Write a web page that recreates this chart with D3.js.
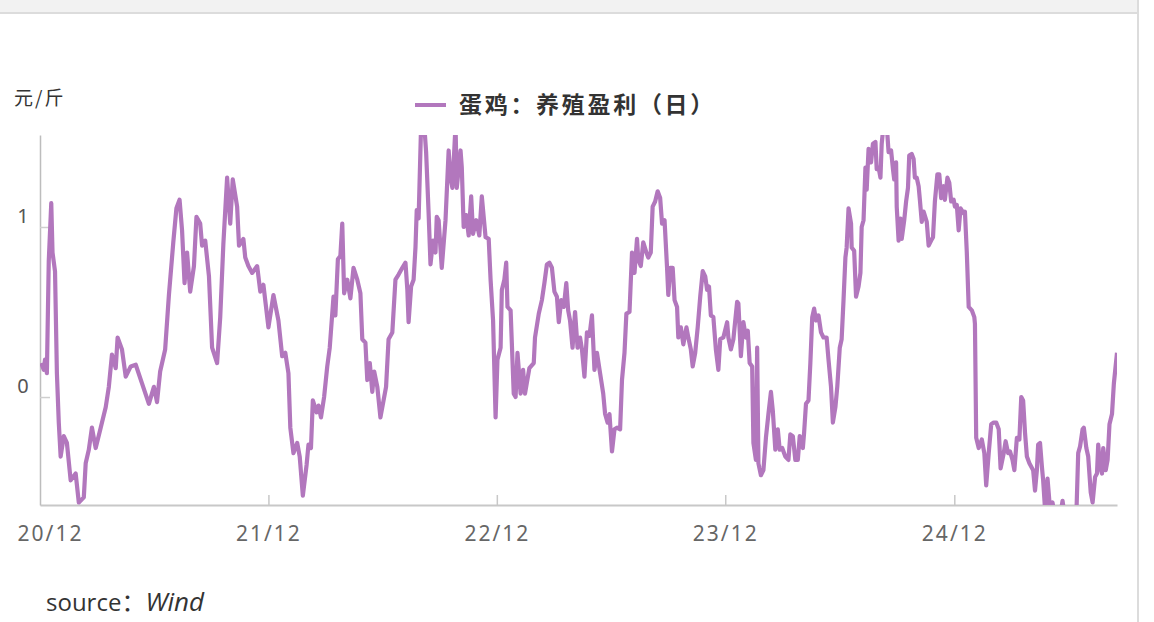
<!DOCTYPE html>
<html>
<head>
<meta charset="utf-8">
<script src="https://cdn.jsdelivr.net/npm/d3@7"></script>
<style>
  html, body { margin: 0; padding: 0; background: #fff; }
  svg { display: block; }
  .tick-x text { font-family: "Noto Sans", "DejaVu Sans", sans-serif; font-size: 21px; fill: #666; letter-spacing: 2px; }
  .tick-y text { font-family: "Noto Sans", "DejaVu Sans", sans-serif; font-size: 20px; fill: #555; }
</style>
</head>
<body>
<div id="chart"></div>
<script>
const seriesName = "蛋鸡：养殖盈利（日）";
const unitLabel = "元/斤";
const yTicks = [0, 1];
const xTicks = ["2020-12-01", "2021-12-01", "2022-12-01", "2023-12-01", "2024-12-01"];
const xDomain = ["2020-12-01", "2025-08-18"];
const yDomain = [-0.635, 1.541];

const dates = [
  "2020-12-03","2020-12-07","2020-12-09","2020-12-12","2020-12-15","2020-12-19","2020-12-21","2020-12-25","2020-12-28","2020-12-31",
  "2021-01-03","2021-01-08","2021-01-13","2021-01-19","2021-01-27","2021-02-01","2021-02-09","2021-02-12","2021-02-17","2021-02-22",
  "2021-02-28","2021-03-08","2021-03-16","2021-03-21","2021-03-26","2021-04-01","2021-04-04","2021-04-11","2021-04-17","2021-04-25",
  "2021-05-03","2021-05-13","2021-05-24","2021-06-01","2021-06-06","2021-06-11","2021-06-19","2021-06-25","2021-07-02","2021-07-07",
  "2021-07-12","2021-07-16","2021-07-20","2021-07-24","2021-07-29","2021-08-04","2021-08-08","2021-08-14","2021-08-17","2021-08-22",
  "2021-08-28","2021-09-02","2021-09-10","2021-09-15","2021-09-20","2021-09-26","2021-10-01","2021-10-05","2021-10-12","2021-10-15",
  "2021-10-22","2021-10-25","2021-10-30","2021-11-05","2021-11-13","2021-11-18","2021-11-23","2021-12-01","2021-12-09","2021-12-17",
  "2021-12-23","2021-12-28","2022-01-02","2022-01-05","2022-01-10","2022-01-16","2022-01-20","2022-01-25","2022-01-31","2022-02-03",
  "2022-02-07","2022-02-10","2022-02-16","2022-02-19","2022-02-23","2022-02-28","2022-03-05","2022-03-09","2022-03-13","2022-03-15",
  "2022-03-18","2022-03-22","2022-03-26","2022-03-29","2022-04-01","2022-04-06","2022-04-11","2022-04-16","2022-04-22","2022-04-27",
  "2022-04-30","2022-05-05","2022-05-08","2022-05-12","2022-05-16","2022-05-19","2022-05-24","2022-05-29","2022-06-03","2022-06-07",
  "2022-06-11","2022-06-17","2022-06-22","2022-06-27","2022-07-03","2022-07-08","2022-07-11","2022-07-13","2022-07-17","2022-07-21",
  "2022-07-24","2022-07-26","2022-07-29","2022-08-02","2022-08-07","2022-08-10","2022-08-14","2022-08-17","2022-08-21","2022-08-25",
  "2022-08-27","2022-08-30","2022-09-04","2022-09-10","2022-09-15","2022-09-18","2022-09-21","2022-09-26","2022-09-28","2022-10-04",
  "2022-10-06","2022-10-09","2022-10-13","2022-10-17","2022-10-21","2022-10-24","2022-10-29","2022-11-03","2022-11-07","2022-11-13",
  "2022-11-18","2022-11-21","2022-11-25","2022-11-29","2022-12-02","2022-12-07","2022-12-09","2022-12-13","2022-12-16","2022-12-18",
  "2022-12-23","2022-12-28","2022-12-31","2023-01-03","2023-01-08","2023-01-12","2023-01-15","2023-01-22","2023-01-29","2023-01-31",
  "2023-02-06","2023-02-11","2023-02-15","2023-02-19","2023-02-23","2023-02-27","2023-03-03","2023-03-07","2023-03-10","2023-03-14",
  "2023-03-18","2023-03-22","2023-03-25","2023-03-28","2023-04-01","2023-04-05","2023-04-09","2023-04-13","2023-04-16","2023-04-20",
  "2023-04-24","2023-04-28","2023-05-02","2023-05-06","2023-05-10","2023-05-15","2023-05-20","2023-05-23","2023-05-27","2023-05-30",
  "2023-06-03","2023-06-07","2023-06-11","2023-06-16","2023-06-19","2023-06-23","2023-06-26","2023-07-01","2023-07-05","2023-07-09",
  "2023-07-13","2023-07-15","2023-07-19","2023-07-23","2023-07-28","2023-07-31","2023-08-04","2023-08-07","2023-08-11","2023-08-15",
  "2023-08-19","2023-08-22","2023-08-26","2023-08-30","2023-09-01","2023-09-04","2023-09-08","2023-09-11","2023-09-15","2023-09-17",
  "2023-09-21","2023-09-25","2023-09-30","2023-10-03","2023-10-07","2023-10-10","2023-10-14","2023-10-18","2023-10-22","2023-10-26",
  "2023-10-30","2023-11-02","2023-11-05","2023-11-08","2023-11-12","2023-11-16","2023-11-20","2023-11-23","2023-11-28","2023-12-04",
  "2023-12-06","2023-12-10","2023-12-14","2023-12-20","2023-12-22","2023-12-26","2023-12-30","2024-01-03","2024-01-06","2024-01-09",
  "2024-01-13","2024-01-15","2024-01-19","2024-01-21","2024-01-23","2024-01-27","2024-01-31","2024-02-04","2024-02-08","2024-02-12",
  "2024-02-15","2024-02-19","2024-02-23","2024-02-26","2024-03-01","2024-03-06","2024-03-11","2024-03-14","2024-03-18","2024-03-22",
  "2024-03-26","2024-03-29","2024-04-03","2024-04-05","2024-04-08","2024-04-12","2024-04-15","2024-04-18","2024-04-21","2024-04-24",
  "2024-04-28","2024-05-02","2024-05-06","2024-05-11","2024-05-14","2024-05-18","2024-05-21","2024-05-25","2024-05-28","2024-06-01",
  "2024-06-04","2024-06-07","2024-06-10","2024-06-12","2024-06-15","2024-06-19","2024-06-20","2024-06-24","2024-06-27","2024-07-01",
  "2024-07-04","2024-07-06","2024-07-09","2024-07-12","2024-07-14","2024-07-17","2024-07-21","2024-07-24","2024-07-28","2024-07-30",
  "2024-08-02","2024-08-05","2024-08-07","2024-08-10","2024-08-15","2024-08-18","2024-08-22","2024-08-25","2024-08-27","2024-08-30",
  "2024-08-31","2024-09-03","2024-09-06","2024-09-08","2024-09-12","2024-09-15","2024-09-18","2024-09-20","2024-09-24","2024-09-27",
  "2024-09-29","2024-10-02","2024-10-05","2024-10-07","2024-10-10","2024-10-13","2024-10-18","2024-10-21","2024-10-25","2024-10-28",
  "2024-10-31","2024-11-04","2024-11-07","2024-11-10","2024-11-14","2024-11-16","2024-11-20","2024-11-23","2024-11-26","2024-11-30",
  "2024-12-02","2024-12-05","2024-12-08","2024-12-11","2024-12-16","2024-12-18","2024-12-21","2024-12-24","2024-12-29","2025-01-02",
  "2025-01-03","2025-01-05","2025-01-09","2025-01-14","2025-01-18","2025-01-21","2025-01-25","2025-01-29","2025-02-02","2025-02-06",
  "2025-02-10","2025-02-13","2025-02-18","2025-02-21","2025-02-25","2025-02-28","2025-03-04","2025-03-07","2025-03-11","2025-03-15",
  "2025-03-18","2025-03-21","2025-03-24","2025-03-27","2025-03-31","2025-04-03","2025-04-06","2025-04-09","2025-04-12","2025-04-14",
  "2025-04-17","2025-04-20","2025-04-22","2025-04-25","2025-04-29","2025-05-03","2025-05-07","2025-05-11","2025-05-19","2025-05-23",
  "2025-05-27","2025-06-07","2025-06-14","2025-06-17","2025-06-20","2025-06-24","2025-06-26","2025-06-30","2025-07-03","2025-07-07",
  "2025-07-10","2025-07-14","2025-07-17","2025-07-19","2025-07-22","2025-07-25","2025-07-27","2025-07-31","2025-08-03","2025-08-06",
  "2025-08-10","2025-08-13","2025-08-18"
];

const profit = [
  0.20,0.16,0.22,0.14,0.80,1.14,0.85,0.74,0.14,-0.15,
  -0.35,-0.23,-0.27,-0.49,-0.45,-0.62,-0.59,-0.39,-0.31,-0.18,
  -0.30,-0.18,-0.06,0.06,0.25,0.17,0.35,0.28,0.12,0.18,
  0.19,0.08,-0.04,0.06,-0.03,0.15,0.28,0.60,0.91,1.11,
  1.16,0.98,0.67,0.85,0.62,0.77,1.06,1.02,0.89,0.92,
  0.71,0.29,0.20,0.47,0.90,1.29,1.02,1.28,1.12,0.89,
  0.93,0.82,0.77,0.73,0.77,0.62,0.66,0.41,0.60,0.45,
  0.24,0.26,0.14,-0.18,-0.33,-0.27,-0.35,-0.58,-0.40,-0.28,
  -0.30,-0.02,-0.09,-0.05,-0.12,0.00,0.18,0.29,0.49,0.59,
  0.48,0.81,0.83,1.02,0.61,0.69,0.58,0.76,0.69,0.61,
  0.34,0.32,0.10,0.20,0.03,0.15,0.06,-0.12,-0.02,0.06,
  0.34,0.38,0.69,0.72,0.76,0.79,0.63,0.44,0.65,0.69,
  0.88,1.10,1.05,1.60,1.60,1.44,1.08,0.78,0.92,0.85,
  1.06,1.04,0.76,1.04,1.45,1.29,1.23,1.60,1.23,1.45,
  1.35,1.00,1.07,0.95,1.18,0.96,1.04,0.95,1.18,0.94,
  0.93,0.69,0.45,-0.12,0.22,0.29,0.63,0.69,0.79,0.53,
  0.51,0.02,0.00,0.26,0.02,0.16,0.02,0.17,0.20,0.35,
  0.49,0.57,0.67,0.78,0.79,0.76,0.62,0.59,0.44,0.57,
  0.53,0.67,0.51,0.45,0.29,0.50,0.29,0.35,0.28,0.12,
  0.38,0.36,0.48,0.16,0.26,0.14,0.02,-0.10,-0.15,-0.10,
  -0.32,-0.19,-0.18,-0.19,0.10,0.26,0.49,0.50,0.85,0.73,
  0.93,0.81,0.77,0.91,0.85,0.82,0.85,1.12,1.15,1.21,
  1.17,1.02,1.04,0.76,0.60,0.76,0.76,0.57,0.53,0.35,
  0.41,0.31,0.41,0.35,0.28,0.18,0.26,0.41,0.59,0.74,
  0.71,0.63,0.65,0.48,0.47,0.28,0.16,0.34,0.35,0.44,
  0.35,0.28,0.34,0.56,0.55,0.24,0.44,0.35,0.39,0.20,
  0.18,-0.27,-0.37,0.29,-0.39,-0.46,-0.43,-0.24,-0.10,0.03,
  -0.08,-0.31,-0.19,-0.31,-0.30,-0.35,-0.37,-0.22,-0.23,-0.37,
  -0.37,-0.23,-0.30,-0.21,-0.04,-0.02,0.20,0.47,0.52,0.45,
  0.48,0.38,0.35,0.35,0.22,0.06,-0.15,-0.06,0.06,0.29,
  0.34,0.57,0.82,0.88,1.11,1.02,0.88,0.86,0.59,0.65,
  0.73,1.00,1.04,1.35,1.22,1.46,1.38,1.49,1.50,1.34,
  1.35,1.29,1.49,1.60,1.60,1.44,1.45,1.34,1.28,1.38,
  1.12,0.92,1.05,0.93,1.04,1.15,1.23,1.42,1.43,1.40,
  1.29,1.29,1.24,1.16,1.03,1.09,1.03,0.89,0.92,0.94,
  1.15,1.31,1.31,1.17,1.24,1.16,1.29,1.26,1.15,1.16,
  1.12,1.13,0.98,1.11,1.08,1.09,0.85,0.53,0.51,0.47,
  0.43,-0.24,-0.30,-0.25,-0.33,-0.52,-0.33,-0.16,-0.15,-0.15,
  -0.19,-0.42,-0.33,-0.26,-0.33,-0.32,-0.37,-0.43,-0.24,-0.25,
  0.00,-0.02,-0.21,-0.35,-0.39,-0.41,-0.43,-0.55,-0.43,-0.28,
  -0.27,-0.41,-0.49,-0.66,-0.48,-0.66,-0.62,-0.72,-0.70,-0.61,
  -0.72,-0.75,-0.70,-0.33,-0.29,-0.19,-0.18,-0.30,-0.35,-0.56,
  -0.62,-0.47,-0.45,-0.28,-0.41,-0.45,-0.30,-0.43,-0.37,-0.16,
  -0.10,0.08,0.26
];

const width = 1154;
const height = 622;
const margin = { top: 135, right: 37, bottom: 117, left: 40 };
const lineColor = "#b277bd";
const parseDate = d3.utcParse("%Y-%m-%d");
const rows = dates.map((d, i) => ({ date: parseDate(d), value: profit[i] }));

const svg = d3.select("#chart").append("svg").attr("width", width).attr("height", height);

// page frame: grey strip on top, divider at the right
svg.append("rect").attr("x", 0).attr("y", 0).attr("width", 1138).attr("height", 12).attr("fill", "#f2f2f2");
svg.append("line").attr("x1", 0).attr("x2", 1138).attr("y1", 13).attr("y2", 13).attr("stroke", "#dcdcdc").attr("stroke-width", 2);
svg.append("line").attr("x1", 1138).attr("x2", 1138).attr("y1", 0).attr("y2", height).attr("stroke", "#dcdcdc").attr("stroke-width", 2);

const x = d3.scaleUtc().domain(xDomain.map(parseDate)).range([margin.left, width - margin.right]);
const y = d3.scaleLinear().domain(yDomain).range([height - margin.bottom, margin.top]);

// axes
const xAxis = svg.append("g")
  .attr("class", "tick-x")
  .attr("transform", `translate(0,${height - margin.bottom})`)
  .call(d3.axisBottom(x).tickValues(xTicks.map(parseDate)).tickFormat(d3.utcFormat("%y/%m")).tickSize(-10).tickSizeOuter(0).tickPadding(16));
xAxis.select(".domain").attr("stroke", "#c8c8c8").attr("stroke-width", 2);
xAxis.selectAll(".tick line").attr("stroke", "#c8c8c8").attr("stroke-width", 1.5);
xAxis.selectAll(".tick text").attr("dy", "0.95em");
xAxis.select(".tick:first-of-type line").remove();
xAxis.select(".tick:first-of-type text").attr("dx", 10);

const yAxis = svg.append("g")
  .attr("class", "tick-y")
  .attr("transform", `translate(${margin.left},0)`)
  .call(d3.axisLeft(y).tickValues(yTicks).tickFormat(d3.format("d")).tickSize(-10).tickSizeOuter(0));
yAxis.select(".domain").attr("stroke", "#bdbdbd").attr("stroke-width", 1.5);
yAxis.selectAll(".tick line").attr("stroke", "#cfcfcf").attr("stroke-width", 1.5);
yAxis.selectAll(".tick text").attr("x", -17).attr("text-anchor", "middle").attr("dy", "-0.22em");

svg.append("text")
  .attr("x", 14)
  .attr("y", 105)
  .attr("font-family", "'Noto Sans CJK SC', sans-serif")
  .attr("font-size", 19)
  .attr("letter-spacing", 2)
  .attr("fill", "#333")
  .text(unitLabel);

// legend
svg.append("line").attr("x1", 415).attr("x2", 446).attr("y1", 105).attr("y2", 105).attr("stroke", lineColor).attr("stroke-width", 4);
svg.append("text")
  .attr("x", 459)
  .attr("y", 113)
  .attr("font-family", "'Noto Sans CJK SC', sans-serif")
  .attr("font-size", 23)
  .attr("font-weight", "bold")
  .attr("letter-spacing", 2.7)
  .attr("fill", "#333")
  .text(seriesName);

// series, clipped to the plot area
svg.append("clipPath").attr("id", "plotClip")
  .append("rect")
  .attr("x", margin.left)
  .attr("y", margin.top)
  .attr("width", width - margin.left - margin.right)
  .attr("height", height - margin.top - margin.bottom);

const line = d3.line().x((d) => x(d.date)).y((d) => y(d.value));
svg.append("path")
  .datum(rows)
  .attr("clip-path", "url(#plotClip)")
  .attr("d", line)
  .attr("fill", "none")
  .attr("stroke", lineColor)
  .attr("stroke-width", 4.2)
  .attr("stroke-linejoin", "round");

// source note
const src = svg.append("text")
  .attr("x", 46)
  .attr("y", 611)
  .attr("font-family", "'Open Sans', 'Noto Sans', sans-serif")
  .attr("font-size", 24)
  .attr("fill", "#333");
src.append("tspan").text("source");
src.append("tspan").attr("font-family", "'Noto Sans CJK SC', sans-serif").text("：");
src.append("tspan").attr("font-style", "italic").attr("font-size", 26).text("Wind");
</script>
</body>
</html>
